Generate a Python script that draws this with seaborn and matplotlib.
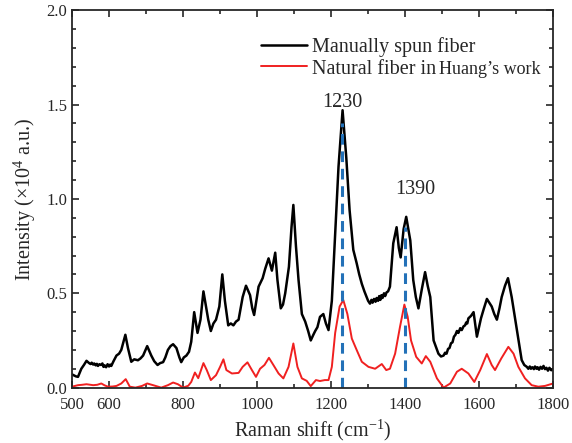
import matplotlib
matplotlib.use("Agg")
import matplotlib.pyplot as plt
import seaborn as sns
import pandas as pd

# Manually spun fiber (black)
spun_shift = [500, 510, 516, 525, 532, 539, 546, 550, 553, 557, 560, 564, 567, 570, 574, 578, 582, 585, 588, 592,
              596, 600, 603, 606, 612, 620, 627, 633, 644, 651,
              660, 668, 678, 685, 692, 703, 714, 722, 731, 738, 746, 752, 759, 766, 773, 782, 790, 795, 802, 809,
              816, 822, 830, 839, 847, 855, 862, 868, 875, 882, 889, 898, 906, 913, 922, 929, 936, 943, 950, 961,
              970, 981, 987, 992, 1004, 1010, 1015, 1022, 1031, 1040, 1049, 1055, 1064, 1070, 1076, 1086, 1093, 1098,
              1105, 1112, 1121, 1130, 1138, 1145, 1152, 1157, 1163, 1170, 1179, 1186, 1193, 1202, 1211, 1220, 1231,
              1241, 1250, 1260, 1269, 1276, 1283, 1290, 1296, 1300, 1305, 1309, 1312, 1316, 1320, 1323, 1327, 1330,
              1333, 1336, 1339, 1343, 1346, 1350, 1354, 1359,
              1368, 1377, 1383, 1388, 1396, 1403, 1414, 1422, 1429, 1436, 1445, 1454, 1461, 1468, 1477, 1490,
              1497, 1504, 1508, 1512, 1516, 1520, 1524, 1528, 1532, 1536, 1540, 1544, 1549, 1553, 1558, 1562, 1565,
              1568, 1571, 1578, 1585, 1594, 1605, 1613, 1621, 1634,
              1641, 1648, 1655, 1661, 1670, 1678, 1688, 1702, 1715, 1722, 1729, 1733, 1737, 1740, 1744, 1748, 1751,
              1755, 1758, 1762, 1766, 1770, 1774, 1778, 1782, 1786, 1790, 1795, 1800]
spun_int = [0.07, 0.06, 0.057, 0.10, 0.12, 0.142, 0.13, 0.125, 0.132, 0.122, 0.128, 0.118, 0.126, 0.115, 0.124, 0.12,
            0.128, 0.11, 0.118, 0.108, 0.124, 0.112, 0.122, 0.115, 0.14, 0.17, 0.18, 0.20, 0.28, 0.21,
            0.137, 0.15, 0.145, 0.155, 0.17, 0.22, 0.17, 0.14, 0.12, 0.13, 0.135, 0.16, 0.20, 0.22, 0.23, 0.21,
            0.16, 0.135, 0.16, 0.17, 0.19, 0.243, 0.40, 0.29, 0.36, 0.51, 0.43, 0.36, 0.30, 0.34,
            0.36, 0.43, 0.60, 0.46, 0.33, 0.34, 0.33, 0.35, 0.36, 0.48, 0.54, 0.49, 0.42, 0.385, 0.535, 0.56, 0.58,
            0.63, 0.685, 0.62, 0.715, 0.57, 0.42, 0.44, 0.50, 0.64, 0.85, 0.968, 0.75, 0.57, 0.39, 0.35, 0.30, 0.25,
            0.28, 0.30, 0.32, 0.375, 0.39, 0.34, 0.305, 0.46, 0.82, 1.17, 1.47, 1.22, 0.94, 0.73, 0.66, 0.60, 0.55,
            0.51, 0.48, 0.46, 0.445, 0.465, 0.45, 0.47, 0.455, 0.475, 0.46, 0.485,
            0.465, 0.49, 0.475, 0.50, 0.485, 0.505, 0.51, 0.535,
            0.765, 0.85, 0.74, 0.69, 0.84, 0.905, 0.78, 0.57, 0.48, 0.42, 0.52, 0.612, 0.54, 0.48, 0.25, 0.18,
            0.165, 0.17, 0.185, 0.18, 0.205, 0.21, 0.235, 0.24, 0.27, 0.28, 0.30, 0.29, 0.315, 0.305, 0.325, 0.33,
            0.345, 0.34, 0.367, 0.38, 0.40, 0.27, 0.367, 0.42, 0.47, 0.43,
            0.39, 0.36, 0.42, 0.48, 0.54, 0.58, 0.48, 0.305, 0.146, 0.12, 0.11, 0.10, 0.112, 0.10, 0.108, 0.098,
            0.112, 0.10, 0.108, 0.095, 0.11, 0.10, 0.115, 0.098, 0.105, 0.09, 0.105, 0.092, 0.10]

# Natural fiber from Huang's work (red)
natural_shift = [500, 516, 527, 539, 557, 568, 579, 588, 597, 610, 620, 633, 645, 656, 671, 689, 703, 719, 741, 759,
                 773, 786, 800, 814, 822, 832, 841, 848, 855, 864, 875, 889, 900, 909, 917, 932, 950, 961, 974, 986,
                 997, 1008, 1020, 1032, 1044, 1058, 1071, 1085, 1098, 1109, 1121, 1134, 1145, 1159, 1170, 1183, 1193,
                 1202, 1211, 1223, 1233, 1244, 1256, 1269, 1283, 1301, 1319, 1337, 1349, 1359, 1373, 1386, 1398, 1407,
                 1416, 1430, 1445, 1456, 1468, 1486, 1504, 1522, 1540, 1553, 1571, 1587, 1603, 1621, 1634, 1643, 1660,
                 1679, 1693, 1706, 1724, 1742, 1760, 1778, 1800]
natural_int = [0.005, 0.013, 0.015, 0.018, 0.013, 0.015, 0.022, 0.012, 0.005, 0.006, 0.009, 0.022, 0.045, 0.005, 0.0,
               0.009, 0.022, 0.013, 0.0, 0.013, 0.027, 0.018, 0.0, 0.01, 0.03, 0.08, 0.05, 0.09, 0.13, 0.093, 0.04,
               0.066, 0.11, 0.15, 0.093, 0.075, 0.078, 0.11, 0.134, 0.093, 0.057, 0.10, 0.12, 0.158, 0.12, 0.075,
               0.049, 0.11, 0.234, 0.11, 0.049, 0.036, 0.008, 0.04, 0.035, 0.04, 0.04, 0.11, 0.29, 0.43, 0.464, 0.39,
               0.26, 0.20, 0.137, 0.11, 0.10, 0.125, 0.093, 0.10, 0.18, 0.32, 0.44, 0.375, 0.25, 0.163, 0.128, 0.167,
               0.137, 0.049, 0.0, 0.022, 0.084, 0.10, 0.075, 0.03, 0.093, 0.178, 0.12, 0.093, 0.155, 0.216, 0.18,
               0.11, 0.049, 0.013, 0.005, 0.009, 0.022]

# marked peaks: where the dashed line sits, its height, and the label
peak_pos = [1230, 1400]
peak_top = [1.40, 0.85]
peak_labels = ["1230", "1390"]
label_pos = [(1230, 1.51), (1427, 1.05)]

sns.set_style("ticks")
plt.rcParams['font.family'] = ['Liberation Serif', 'DejaVu Serif']
plt.rcParams['mathtext.default'] = 'regular'

fig = plt.figure(figsize=(5.72, 4.43), dpi=100)
ax = fig.add_axes([0.126, 0.125, 0.841, 0.852])

spun = pd.DataFrame({'shift': spun_shift, 'intensity': spun_int})
natural = pd.DataFrame({'shift': natural_shift, 'intensity': natural_int})

sns.lineplot(data=spun, x='shift', y='intensity', color='black', linewidth=1.8,
             sort=False, estimator=None, ax=ax, label="Manually spun fiber")
sns.lineplot(data=natural, x='shift', y='intensity', color='#f02020', linewidth=1.4,
             sort=False, estimator=None, ax=ax, label="Natural fiber in")

for pos, top in zip(peak_pos, peak_top):
    ax.plot([pos, pos], [0, top], color='#2371b8', linewidth=2.2, linestyle=(0, (3.5, 2.2)))
for txt, (px, py) in zip(peak_labels, label_pos):
    ax.text(px, py, txt, ha='center', va='center', fontsize=14.5)

ax.set_xlim(500, 1800)
ax.set_ylim(0, 2.0)
ax.set_xticks([500, 600, 800, 1000, 1200, 1400, 1600, 1800])
ax.set_xticks([700, 900, 1100, 1300, 1500, 1700], minor=True)
ax.set_yticks([0, 0.5, 1.0, 1.5, 2.0])
ax.set_yticks([i / 10 for i in range(21)], minor=True)
ax.set_yticklabels(["0.0", "0.5", "1.0", "1.5", "2.0"])
ax.tick_params(which='both', direction='in', top=True, right=True, labelsize=12, width=1.2)
ax.tick_params(which='major', length=5)
ax.tick_params(which='minor', length=3)
ax.tick_params(axis='x', which='major', pad=7)
for sp in ax.spines.values():
    sp.set_linewidth(1.3)

ax.set_xlabel("Raman shift (cm$^{-1}$)", fontsize=14.5, labelpad=3)
ax.set_ylabel("Intensity (×10$^4$ a.u.)", fontsize=14.5, labelpad=6)

leg = ax.legend(loc='upper left', bbox_to_anchor=(0.375, 0.95), frameon=False, fontsize=14.5,
                handlelength=2.3, handletextpad=0.25, labelspacing=0.12, borderaxespad=0)

# the second legend entry continues in a smaller font
fig.canvas.draw()
bb = leg.get_texts()[1].get_window_extent()
inv = fig.transFigure.inverted()
x1, yc = inv.transform((bb.x1 + 3, (bb.y0 + bb.y1) / 2))
fig.text(x1, yc, "Huang’s work", fontsize=13, ha='left', va='center')

fig.savefig("out.png", dpi=100)
